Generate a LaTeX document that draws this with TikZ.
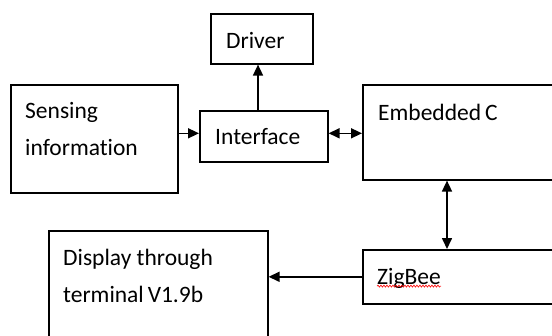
\documentclass[tikz,border=0pt]{standalone}
\usepackage{fontspec}
\setmainfont[Ligatures=CommonOff]{Carlito}
\usetikzlibrary{arrows.meta, positioning, decorations.pathmorphing}

\begin{document}
\begin{tikzpicture}[
    x = 1pt, y = -1pt,
    box/.style = {draw, line width=1.6pt, inner sep=0pt, anchor=north west},
    txt/.style = {anchor=north west, inner sep=0pt, align=left,
                  font=\fontsize{23.5}{37}\selectfont,
                  execute at begin node=\strut},
    arr/.style = {line width=1.6pt, -{Triangle[length=11pt,width=10pt]}},
    both/.style = {line width=1.6pt,
                   {Triangle[length=11pt,width=10pt]}-{Triangle[length=11pt,width=10pt]}},
                    ]
\useasboundingbox (0,0) rectangle (552,335);
\clip (0,0) rectangle (552,335);
%
\node[box, minimum width=102pt, minimum height=50pt]  (driver) at (210,13)  {};
\node[box, minimum width=167pt, minimum height=108pt] (sense)  at (10,84)   {};
\node[box, minimum width=128pt, minimum height=51pt]  (iface)  at (199,110) {};
\node[box, minimum width=200pt, minimum height=95pt]  (emb)    at (362,84)  {};
\node[box, minimum width=200pt, minimum height=54pt]  (zig)    at (362,249) {};
\node[box, minimum width=219pt, minimum height=120pt] (disp)   at (48,230)  {};
%
\node[txt] (driver-t) at ([shift={(16,9)}]driver.north west) {Driver};
\node[txt] (sense-t)  at ([shift={(15,18)}]sense.north west) {Sensing\\information};
\node[txt] (iface-t)  at ([shift={(16,8)}]iface.north west)  {Interface};
\node[txt] (emb-t)    at ([shift={(16,10)}]emb.north west)   {Embedded\,C};
\node[txt] (zig-t)    at ([shift={(15,9)}]zig.north west)    {ZigBee};
\node[txt] (disp-t)   at ([shift={(15,19)}]disp.north west)  {Display through\\terminal\,V1.9b};
%
\draw[red, line width=0.6pt, decorate,
      decoration={snake, amplitude=1pt, segment length=3pt}]
      ([yshift=-2pt]zig-t.base west) -- ([yshift=-2pt]zig-t.base east);
%
\path[arr]  ([xshift=59pt]iface.north west) edge ([xshift=48pt]driver.south west)
            ([yshift=3pt]sense.east |- iface.west) edge ([yshift=3pt]iface.west)
            (zig.west) edge (zig.west -| disp.east);
\path[both] ([yshift=3pt]iface.east) edge ([yshift=3pt]iface.east -| emb.west)
            ([xshift=85pt]emb.south west) edge ([xshift=85pt]zig.north west);
%
\end{tikzpicture}
\end{document}
